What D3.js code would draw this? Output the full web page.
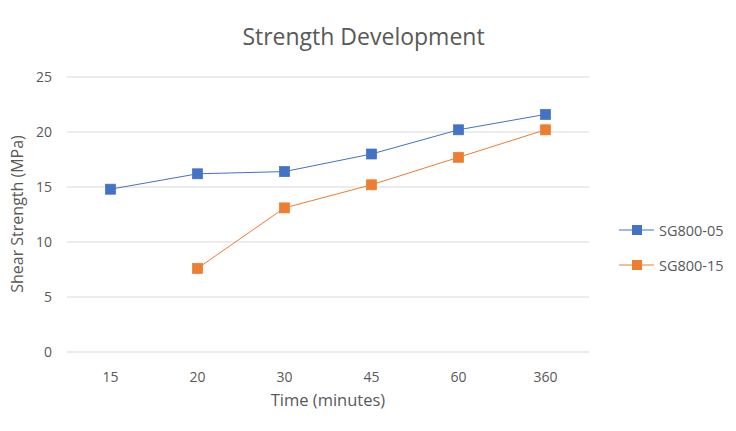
<!DOCTYPE html>
<html><head><meta charset="utf-8">
<script src="https://cdn.jsdelivr.net/npm/d3@7"></script>
<style>body{margin:0;background:#fff}svg{display:block;font-family:"Open Sans",sans-serif}</style>
</head><body>
<svg id="c" width="736" height="431"></svg>
<script>
const categories = ["15","20","30","45","60","360"];
const seriesNames = ["SG800-05","SG800-15"];
const sg80005 = [14.8,16.2,16.4,18.0,20.2,21.6];
const sg80015 = [null,7.6,13.1,15.2,17.7,20.2];
const yTicks = [0,5,10,15,20,25];
const colors = ["#4472C4","#ED7D31"];

const svg = d3.select("#c");
const m = {l:67, r:147, t:77, b:79};
const W = 736, H = 431;
const x = d3.scaleBand().domain(categories).range([m.l, W-m.r]);
const y = d3.scaleLinear().domain([0,25]).range([H-m.b, m.t]);

svg.append("text").attr("x",363.5).attr("y",45).attr("text-anchor","middle")
  .attr("font-size",23).attr("fill","#595959").text("Strength Development");

const g = svg.append("g");
g.selectAll("line.grid").data(yTicks).join("line")
  .attr("x1",m.l).attr("x2",W-m.r).attr("y1",d=>y(d)).attr("y2",d=>y(d))
  .attr("stroke","#d9d9d9").attr("stroke-width",1);
g.selectAll("text.yt").data(yTicks).join("text")
  .attr("x",52).attr("y",d=>y(d)+5).attr("text-anchor","end")
  .attr("font-size",14).attr("fill","#595959").text(d=>d);
g.selectAll("text.xt").data(categories).join("text")
  .attr("x",d=>x(d)+x.bandwidth()/2).attr("y",382).attr("text-anchor","middle")
  .attr("font-size",14).attr("fill","#595959").text(d=>d);

svg.append("text").attr("transform","translate(23,214) rotate(-90)").attr("text-anchor","middle")
  .attr("font-size",16).attr("fill","#595959").text("Shear Strength (MPa)");
svg.append("text").attr("x",328).attr("y",406).attr("text-anchor","middle")
  .attr("font-size",16.5).attr("fill","#595959").text("Time (minutes)");

const all = [sg80005, sg80015];
all.forEach((vals,i)=>{
  const pts = categories.map((c,j)=>({c,v:vals[j]})).filter(p=>p.v!=null);
  const line = d3.line().x(p=>x(p.c)+x.bandwidth()/2).y(p=>y(p.v));
  svg.append("path").attr("d",line(pts)).attr("fill","none").attr("stroke",colors[i]).attr("stroke-width",1);
  svg.selectAll(null).data(pts).join("rect")
    .attr("x",p=>x(p.c)+x.bandwidth()/2-5).attr("y",p=>y(p.v)-5)
    .attr("width",10).attr("height",10).attr("fill",colors[i])
    .attr("stroke",colors[i]).attr("stroke-width",0.75);
  const ly = 230 + i*35;
  svg.append("line").attr("x1",619).attr("x2",654).attr("y1",ly).attr("y2",ly).attr("stroke",colors[i]).attr("stroke-width",1);
  svg.append("rect").attr("x",632).attr("y",ly-5).attr("width",10).attr("height",10).attr("fill",colors[i]);
  svg.append("text").attr("x",659).attr("y",ly+5.5).attr("font-size",14.5).attr("fill","#595959").text(seriesNames[i]);
});
</script>
</body></html>
